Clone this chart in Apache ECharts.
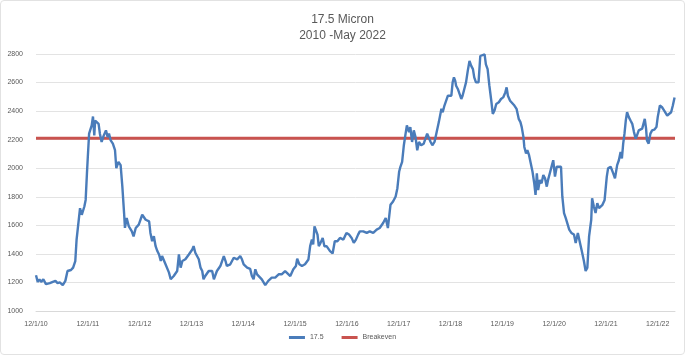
<!DOCTYPE html>
<html>
<head>
<meta charset="utf-8">
<script src="https://cdn.jsdelivr.net/npm/echarts@6/dist/echarts.min.js"></script>
<style>
html,body{margin:0;padding:0;background:#fff;}
#c{width:685px;height:355px;box-sizing:border-box;border:1px solid #e2e2e2;border-radius:4px;}
</style>
</head>
<body>
<div id="c"></div>
<script>
// Months since 12/1/10 for each reading
const months = [0.0,0.4,0.8,1.2,1.7,2.3,2.7,3.2,3.9,4.5,5.0,5.5,6.2,6.8,7.3,8.1,8.6,9.1,9.4,9.9,10.2,10.6,11.2,11.5,11.8,12.0,12.3,12.7,12.9,13.2,13.5,13.7,14.1,14.5,14.8,15.2,15.7,16.2,16.6,16.9,17.3,17.8,18.3,18.6,19.1,19.6,20.0,20.4,20.6,21.0,21.5,22.2,22.6,23.1,23.8,24.6,25.4,26.2,26.5,26.9,27.3,27.7,28.1,28.5,28.9,29.2,30.0,30.4,30.8,31.2,31.9,32.3,32.7,33.1,33.5,33.9,34.6,35.4,36.2,36.5,36.9,37.7,38.1,38.5,38.8,39.2,40.0,40.8,41.2,41.5,41.9,42.7,43.5,43.9,44.2,45.0,45.8,46.2,46.6,47.3,47.7,48.1,48.9,49.6,50.0,50.4,50.8,51.2,51.5,52.3,53.1,53.8,54.6,55.4,56.2,56.9,57.7,58.1,58.9,59.6,60.2,60.5,61.0,61.6,62.3,63.1,63.5,63.9,64.2,64.5,64.8,65.2,65.5,65.9,66.4,66.8,67.3,68.1,68.7,69.2,69.8,70.4,71.2,71.9,72.5,73.1,73.6,74.1,74.6,75.0,75.8,76.6,77.3,78.1,78.9,79.6,80.4,81.0,81.5,82.1,82.7,83.3,83.7,84.1,84.4,84.8,85.2,85.6,85.9,86.4,86.7,87.1,87.5,87.9,88.3,88.7,89.2,89.8,90.2,90.6,91.0,91.4,91.8,92.3,92.8,93.3,93.9,94.2,94.6,95.0,95.4,95.8,96.2,96.5,96.8,97.1,97.3,97.7,98.1,98.5,98.8,99.2,99.6,100.0,100.4,100.8,101.2,101.5,101.9,102.5,102.9,103.3,103.9,104.2,104.6,105.0,105.4,105.8,106.2,106.6,107.2,107.7,108.2,108.7,109.0,109.3,109.8,110.2,110.8,111.3,111.8,112.2,112.5,112.9,113.1,113.5,113.8,114.2,114.6,115.0,115.4,115.7,116.0,116.3,116.7,117.1,117.5,117.9,118.3,118.6,119.1,119.5,119.8,120.2,120.6,121.0,121.6,121.9,122.3,122.7,123.1,123.5,124.0,124.6,125.0,125.5,126.0,126.5,126.9,127.3,127.7,128.1,128.6,128.8,129.2,129.6,130.0,130.4,131.2,131.7,132.2,132.5,133.1,133.7,134.1,134.6,135.0,135.4,135.7,136.0,136.3,136.6,136.9,137.3,137.7,138.1,138.5,138.9,139.2,139.6,140.0,140.4,140.8,141.0,141.3,141.5,141.9,142.3,142.7,143.2,143.7,144.0,144.5,145.0,145.5,146.2,146.5,147.1,147.5,147.9];
const micron175 = [1250,1204,1222,1204,1222,1188,1176,1195,1204,1211,1195,1200,1181,1211,1280,1287,1304,1350,1500,1639,1720,1674,1732,1778,1964,2079,2242,2253,2300,2362,2230,2334,2323,2311,2242,2184,2230,2265,2218,2242,2195,2172,2126,2000,2045,2022,1871,1686,1582,1651,1593,1558,1523,1581,1605,1674,1639,1628,1547,1489,1524,1454,1420,1396,1350,1385,1327,1315,1269,1222,1245,1234,1280,1396,1304,1350,1362,1396,1431,1454,1408,1362,1304,1280,1222,1245,1280,1280,1222,1211,1280,1315,1385,1350,1315,1327,1373,1385,1362,1385,1362,1327,1304,1295,1245,1222,1292,1257,1245,1222,1181,1211,1234,1234,1257,1257,1280,1269,1245,1292,1315,1366,1327,1315,1327,1361,1454,1500,1466,1593,1605,1535,1454,1477,1512,1454,1454,1419,1403,1489,1489,1512,1500,1547,1535,1512,1477,1500,1535,1558,1558,1547,1558,1547,1570,1581,1616,1651,1581,1744,1767,1802,1860,1975,2010,2045,2161,2242,2300,2253,2288,2184,2265,2218,2126,2184,2161,2172,2161,2242,2230,2184,2161,2184,2253,2323,2416,2392,2439,2427,2508,2508,2508,2601,2636,2612,2578,2555,2520,2485,2508,2555,2601,2682,2751,2717,2694,2636,2601,2601,2786,2798,2798,2728,2694,2580,2485,2381,2404,2450,2462,2485,2496,2531,2566,2508,2473,2462,2439,2416,2346,2323,2288,2218,2149,2103,2126,2091,2033,1975,1894,1813,1964,1848,1918,1894,1952,1929,1871,1918,1975,2022,2056,1941,2010,1999,2010,1802,1686,1651,1662,1570,1547,1535,1477,1547,1477,1408,1350,1280,1304,1523,1639,1790,1732,1686,1755,1720,1744,1778,1941,1999,2010,1964,1929,2022,2056,2114,2068,2172,2242,2334,2392,2358,2334,2311,2253,2207,2230,2265,2253,2277,2265,2346,2277,2195,2172,2242,2265,2270,2288,2358,2439,2427,2404,2369,2381,2392,2439,2496];
const breakeven = 2210;
const tickLabels = ['12/1/10','12/1/11','12/1/12','12/1/13','12/1/14','12/1/15','12/1/16','12/1/17','12/1/18','12/1/19','12/1/20','12/1/21','12/1/22'];
const xMaxMonths = 148;

const chart = echarts.init(document.getElementById('c'), null, {renderer:'canvas'});
const txt = '#595959';
const fam = 'Liberation Sans, Arial, sans-serif';
chart.setOption({
  animation:false,
  title:{
    text:'17.5 Micron\n2010 -May 2022',
    left:'center', top:6,
    textStyle:{fontFamily:fam,fontSize:12,fontWeight:'normal',color:txt,lineHeight:16}
  },
  legend:{
    bottom:8, left:'center',
    itemWidth:16, itemHeight:3, itemGap:18,
    icon:'rect',
    textStyle:{fontFamily:fam,fontSize:7,color:txt},
    data:['17.5','Breakeven']
  },
  grid:{left:35,right:9,top:53,bottom:43},
  xAxis:{
    type:'value', min:0, max:xMaxMonths, interval:12,
    axisLine:{show:true,lineStyle:{color:'#d9d9d9'}},
    axisTick:{show:false},
    splitLine:{show:false},
    axisLabel:{
      fontFamily:fam,fontSize:7,color:txt,margin:10,showMaxLabel:false,
      formatter:v=>{const k=Math.round(v/12);return (Math.abs(v-12*k)<0.01 && tickLabels[k])?tickLabels[k]:'';}
    }
  },
  yAxis:{
    type:'value', min:1000, max:2800, interval:200,
    axisLine:{show:false}, axisTick:{show:false},
    splitLine:{lineStyle:{color:'#e3e3e3'}},
    axisLabel:{fontFamily:fam,fontSize:7,color:txt,margin:13,formatter:v=>String(v)}
  },
  series:[
    {
      name:'17.5', type:'line', symbol:'none',
      lineStyle:{color:'#4a7cba',width:2.4},
      itemStyle:{color:'#4a7cba'},
      data:months.map((m,i)=>[m,micron175[i]]),
      z:3
    },
    {
      name:'Breakeven', type:'line', symbol:'none',
      lineStyle:{color:'#c9534f',width:3},
      itemStyle:{color:'#c9534f'},
      data:[[0,breakeven],[xMaxMonths,breakeven]],
      z:2
    }
  ]
});
</script>
</body>
</html>
